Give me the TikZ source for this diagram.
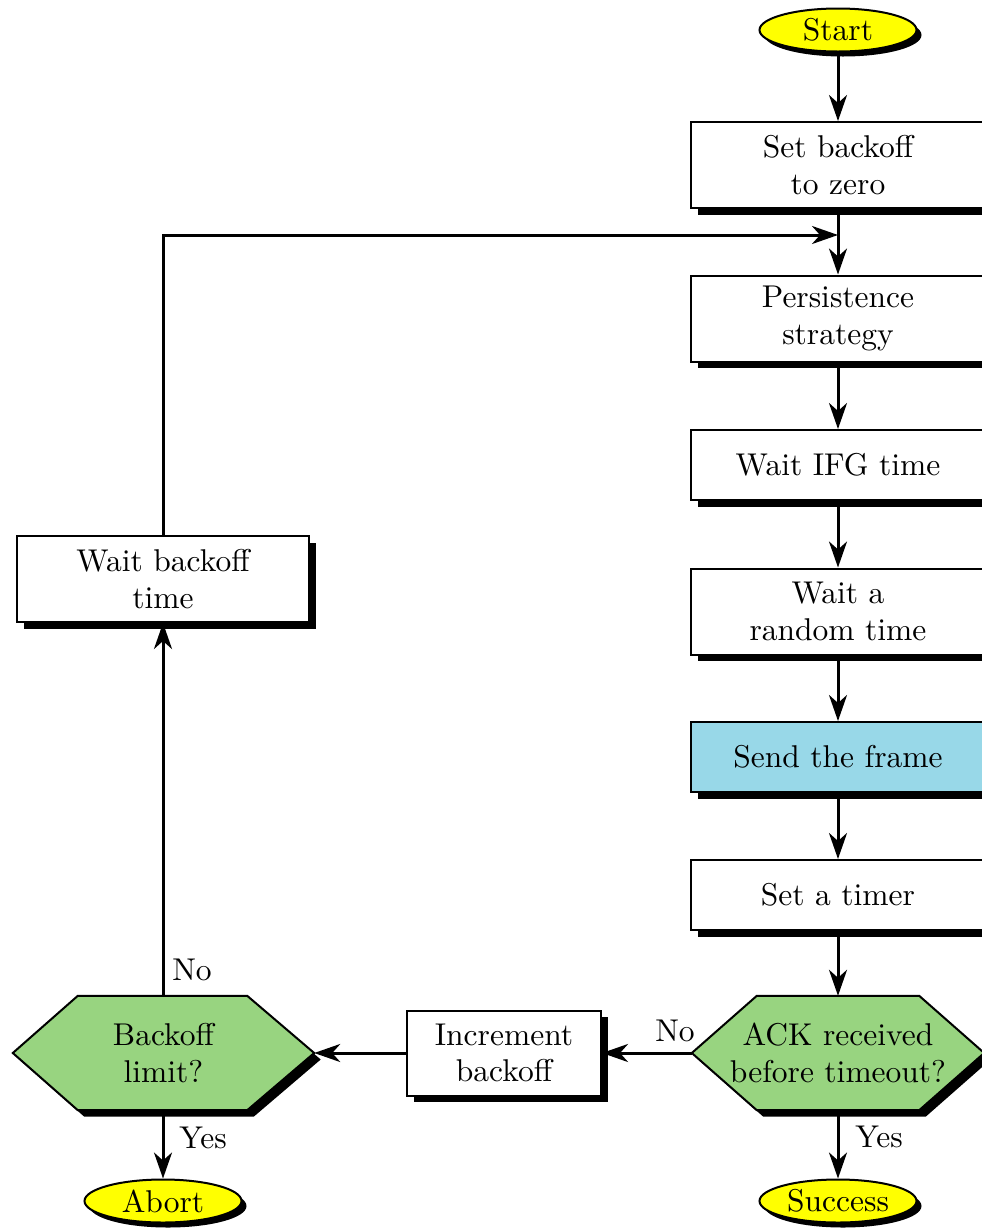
\documentclass[tikz,border=0pt]{standalone}
\usepackage{fontspec}
\setmainfont{lmroman10-regular.otf}
\usetikzlibrary{arrows.meta,shadows,backgrounds,calc,shapes.geometric}

\definecolor{termfill}{RGB}{255,255,0}
\definecolor{decfill}{RGB}{152,212,128}
\definecolor{sendfill}{RGB}{152,216,232}

\tikzset{
  shade6/.style={drop shadow={fill=black, opacity=1, shadow xshift=6.5pt, shadow yshift=-6.5pt}},
  procbox/.style={draw, line width=2pt, fill=white, minimum width=294pt,
    minimum height=86pt, inner sep=0pt, align=center, shade6},
  shortbox/.style={procbox, minimum height=70pt},
  terminal/.style={ellipse, draw, line width=2pt, fill=termfill, minimum width=157pt,
    minimum height=43pt, inner sep=0pt,
    drop shadow={fill=black, opacity=1, shadow xshift=5pt, shadow yshift=-5pt}},
  decision/.style={minimum width=#1, minimum height=114pt, inner sep=0pt, align=center},
  hexfill/.style={draw, line width=2pt, fill=decfill, shade6},
  flow/.style={line width=3pt, -{Stealth[length=26pt,width=18pt,inset=8pt]}},
  lbl/.style={inner sep=0pt}
}

\begin{document}
\begin{tikzpicture}[x=1pt, y=-1pt, font=\fontsize{31.5}{36.5}\selectfont]
\useasboundingbox (0,0) rectangle (982,1232);

% main column
\node[terminal] (start) at (838,30) {Start};
\node[procbox] (setb) at (838,165) {Set backoff\\to zero};
\node[procbox] (pers) at (838,318.5) {Persistence\\strategy};
\node[shortbox] (ifg) at (838,465) {Wait IFG time};
\node[procbox] (rand) at (838,611.5) {Wait a\\random time};
\node[shortbox, fill=sendfill] (send) at (838,757) {Send the frame};
\node[shortbox] (timer) at (838,895) {Set a timer};
\node[decision=292pt] (ack) at (838,1053) {ACK received\\before timeout?};
\node[terminal] (succ) at (838,1201) {Success};

% retry branch
\node[procbox, minimum width=194pt, minimum height=85pt] (inc) at (504,1053) {Increment\\backoff};
\node[decision=301pt] (blim) at (163.5,1053) {Backoff\\limit?};
\node[procbox, minimum width=292pt] (wbo) at (163,579) {Wait backoff\\time};
\node[terminal] (abort) at (163,1201) {Abort};

% hexagonal decision outlines
\begin{scope}[on background layer]
  \path[hexfill] (ack.west) -- ($(ack.north west)+(65,0)$) -- ($(ack.north east)+(-65,0)$)
    -- (ack.east) -- ($(ack.south east)+(-65,0)$) -- ($(ack.south west)+(65,0)$) -- cycle;
  \path[hexfill] (blim.west) -- ($(blim.north west)+(65,0)$) -- ($(blim.north east)+(-67,0)$)
    -- (blim.east) -- ($(blim.south east)+(-67,0)$) -- ($(blim.south west)+(65,0)$) -- cycle;
\end{scope}

% connectors
\coordinate (join) at (838,235);
\draw[flow] (start.south) -- (setb.north);
\draw[line width=3pt] (setb.south) -- (join);
\draw[flow] (join) -- (pers.north);
\draw[flow] (pers.south) -- (ifg.north);
\draw[flow] (ifg.south) -- (rand.north);
\draw[flow] (rand.south) -- (send.north);
\draw[flow] (send.south) -- (timer.north);
\draw[flow] (timer.south) -- (ack.north);
\draw[flow] (ack.south) -- (succ.north);
\draw[flow] (ack.west) -- (inc.east);
\draw[flow] (inc.west) -- (blim.east);
\draw[flow] (abort.north |- blim.south) -- (abort.north);
\draw[flow] (wbo.south |- blim.north) -- (wbo.south);
\draw[flow] (wbo.north) |- (join);

% branch labels
\node[lbl] (noack) at (675,1031) {No};
\node[lbl] (yesack) at (879,1137) {Yes};
\node[lbl] (nolim) at (192,970) {No};
\node[lbl] (yeslim) at (203,1138) {Yes};
\end{tikzpicture}
\end{document}
